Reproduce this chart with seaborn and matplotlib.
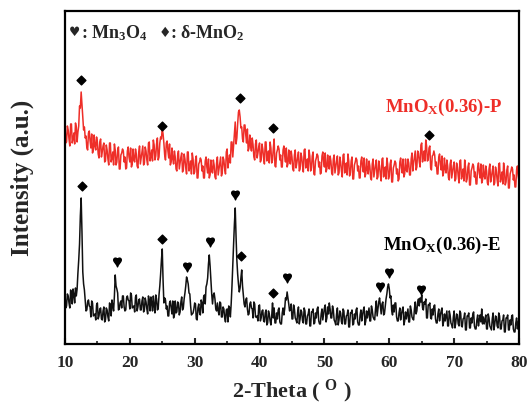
import numpy as np
import pandas as pd
import matplotlib
matplotlib.use("Agg")
import matplotlib.pyplot as plt
import seaborn as sns
from matplotlib.ticker import MultipleLocator

sns.set_theme(style="ticks")
plt.rcParams['font.family'] = ['Liberation Serif', 'DejaVu Sans']
plt.rcParams['font.weight'] = 'bold'
plt.rcParams['mathtext.fontset'] = 'custom'
plt.rcParams['mathtext.rm'] = 'Liberation Serif:bold'
plt.rcParams['mathtext.it'] = 'Liberation Serif:bold'
plt.rcParams['mathtext.bf'] = 'Liberation Serif:bold'
plt.rcParams['mathtext.default'] = 'rm'

# XRD intensities (a.u.), 2-theta 10..80 deg, 0.125 deg steps (one row per degree)
red_P = [
    220, 201, 202, 218, 214, 205, 198, 220,
    220, 201, 205, 211, 200, 221, 217, 202,
    212, 218, 238, 236, 252, 240, 227, 214,
    217, 206, 208, 196, 194, 211, 213, 203,
    196, 210, 191, 194, 209, 198, 194, 207,
    202, 190, 186, 202, 205, 187, 192, 198,
    201, 182, 183, 199, 194, 185, 179, 201,
    201, 182, 186, 192, 179, 200, 194, 179,
    182, 194, 197, 175, 175, 189, 191, 195,
    193, 182, 187, 175, 176, 193, 197, 187,
    182, 196, 177, 180, 195, 184, 182, 195,
    190, 178, 176, 192, 198, 180, 186, 192,
    198, 179, 181, 197, 193, 184, 179, 201,
    202, 183, 188, 194, 183, 204, 199, 184,
    188, 200, 206, 184, 187, 201, 207, 205,
    216, 210, 201, 189, 184, 201, 203, 193,
    186, 200, 179, 182, 196, 185, 180, 193,
    187, 175, 173, 189, 193, 175, 181, 187,
    191, 172, 174, 190, 185, 176, 170, 192,
    192, 173, 177, 183, 170, 191, 185, 170,
    172, 184, 188, 166, 166, 180, 182, 186,
    184, 173, 178, 166, 166, 183, 187, 177,
    171, 185, 166, 169, 184, 173, 171, 184,
    179, 167, 165, 181, 187, 169, 175, 181,
    187, 168, 171, 187, 184, 175, 170, 192,
    195, 176, 183, 189, 181, 202, 202, 187,
    199, 211, 222, 200, 206, 220, 232, 234,
    227, 216, 217, 205, 202, 219, 219, 209,
    201, 215, 193, 196, 209, 198, 193, 206,
    199, 187, 184, 200, 204, 186, 191, 197,
    201, 182, 184, 200, 195, 186, 180, 202,
    202, 183, 187, 193, 181, 202, 196, 181,
    184, 196, 205, 178, 177, 191, 194, 198,
    195, 184, 189, 177, 177, 194, 198, 188,
    182, 196, 177, 180, 194, 183, 180, 193,
    187, 175, 173, 189, 194, 176, 181, 187,
    192, 173, 175, 191, 187, 178, 172, 194,
    195, 176, 179, 185, 173, 194, 188, 173,
    176, 188, 192, 170, 169, 183, 186, 190,
    188, 177, 182, 170, 171, 188, 192, 182,
    177, 191, 172, 175, 189, 178, 175, 188,
    183, 171, 169, 185, 189, 171, 177, 183,
    188, 169, 171, 187, 182, 173, 167, 189,
    190, 171, 175, 181, 169, 190, 183, 168,
    171, 183, 187, 165, 165, 179, 182, 186,
    184, 173, 178, 166, 166, 183, 187, 177,
    172, 186, 167, 170, 185, 174, 170, 183,
    178, 166, 164, 180, 185, 167, 173, 179,
    184, 165, 167, 183, 178, 169, 163, 185,
    186, 167, 171, 177, 165, 186, 180, 165,
    168, 180, 184, 162, 162, 176, 179, 183,
    181, 170, 175, 163, 165, 182, 186, 176,
    171, 185, 167, 170, 185, 174, 172, 185,
    181, 169, 169, 185, 191, 173, 181, 187,
    193, 174, 177, 193, 191, 182, 177, 199,
    201, 182, 187, 193, 183, 204, 198, 183,
    184, 196, 198, 176, 174, 188, 189, 193,
    189, 178, 182, 170, 170, 187, 190, 180,
    174, 188, 168, 171, 186, 175, 171, 184,
    178, 166, 164, 180, 184, 166, 172, 178,
    182, 163, 165, 181, 177, 168, 161, 183,
    184, 165, 169, 175, 163, 184, 177, 162,
    165, 177, 181, 159, 159, 173, 176, 180,
    178, 167, 172, 160, 160, 177, 181, 171,
    166, 180, 161, 164, 179, 168, 165, 178,
    173, 161, 159, 175, 180, 162, 167, 173,
    178, 159, 161, 177, 173, 164, 158, 180,
    181, 162, 166, 172, 160, 181, 174, 159,
    162, 174, 178, 156, 156, 170, 173, 177,
    175, 164, 169, 157, 157, 174, 178, 168,
    163,
]
black_E = [
    51, 36, 38, 50, 48, 41, 36, 54,
    51, 40, 55, 49, 41, 56, 48, 55,
    71, 84, 100, 128, 146, 112, 72, 60,
    54, 43, 33, 34, 42, 44, 38, 37,
    27, 43, 41, 28, 29, 30, 24, 39,
    41, 25, 28, 35, 36, 25, 24, 33,
    37, 22, 24, 36, 34, 27, 23, 41,
    39, 28, 44, 38, 33, 48, 69, 58,
    55, 51, 34, 35, 41, 43, 36, 48,
    48, 37, 33, 34, 46, 48, 44, 43,
    35, 51, 49, 36, 37, 38, 32, 47,
    49, 33, 37, 44, 45, 34, 34, 43,
    47, 32, 34, 46, 42, 35, 30, 48,
    44, 33, 47, 41, 33, 48, 38, 31,
    49, 45, 34, 35, 49, 58, 70, 84,
    95, 64, 41, 46, 44, 35, 38, 28,
    28, 41, 43, 36, 30, 43, 26, 29,
    43, 31, 32, 42, 41, 29, 32, 42,
    47, 34, 36, 45, 51, 58, 67, 64,
    60, 51, 50, 38, 29, 30, 31, 35,
    41, 40, 25, 24, 36, 40, 31, 29,
    44, 41, 31, 47, 49, 40, 57, 60,
    66, 80, 89, 78, 64, 50, 40, 49,
    51, 45, 35, 33, 41, 33, 29, 42,
    41, 27, 27, 37, 35, 26, 22, 34,
    35, 22, 38, 36, 27, 40, 58, 80,
    100, 120, 136, 108, 84, 70, 60, 52,
    56, 66, 74, 58, 49, 40, 37, 44,
    46, 35, 29, 30, 40, 42, 36, 35,
    26, 42, 40, 27, 27, 28, 23, 38,
    39, 23, 26, 33, 34, 23, 22, 31,
    34, 19, 21, 33, 30, 23, 19, 28,
    41, 26, 36, 21, 21, 31, 25, 34,
    36, 22, 20, 20, 31, 36, 29, 35,
    46, 44, 52, 46, 40, 33, 35, 40,
    25, 25, 39, 35, 26, 24, 21, 32,
    37, 20, 25, 34, 32, 23, 21, 36,
    33, 20, 20, 28, 30, 35, 18, 18,
    32, 32, 35, 20, 21, 31, 26, 35,
    37, 23, 20, 20, 30, 35, 24, 30,
    36, 39, 22, 26, 37, 30, 41, 35,
    26, 26, 38, 34, 24, 22, 19, 30,
    36, 19, 24, 33, 31, 22, 20, 35,
    33, 20, 20, 28, 29, 34, 17, 17,
    31, 31, 34, 19, 20, 30, 25, 34,
    36, 22, 19, 19, 29, 34, 23, 29,
    34, 37, 19, 23, 33, 26, 31, 36,
    23, 23, 38, 34, 27, 25, 24, 35,
    43, 28, 35, 42, 46, 38, 30, 40,
    42, 29, 30, 38, 45, 50, 57, 60,
    55, 46, 48, 33, 29, 39, 32, 41,
    41, 27, 23, 23, 31, 36, 24, 30,
    34, 37, 19, 23, 32, 25, 30, 35,
    22, 22, 38, 34, 27, 25, 24, 35,
    42, 30, 33, 42, 45, 38, 46, 42,
    49, 36, 34, 42, 40, 45, 26, 26,
    39, 39, 41, 26, 25, 35, 29, 38,
    39, 25, 21, 21, 30, 35, 23, 29,
    33, 36, 18, 22, 30, 23, 28, 33,
    18, 18, 33, 29, 21, 19, 16, 27,
    33, 16, 21, 30, 29, 20, 18, 33,
    31, 18, 17, 25, 26, 31, 14, 14,
    28, 28, 31, 16, 16, 26, 21, 30,
    32, 18, 15, 15, 24, 29, 18, 24,
    29, 22, 35, 20, 27, 20, 24, 29,
    15, 15, 30, 26, 18, 16, 14, 25,
    31, 14, 19, 28, 27, 18, 16, 31,
    28, 15, 15, 23, 24, 29, 12, 12,
    26, 26, 29, 14, 14, 24, 19, 28,
    29, 15, 12, 12, 21, 26, 15, 21,
    26,
]
two_theta = np.linspace(10, 80, len(red_P))

# phase markers (2-theta, height)
diam_x = [12.5, 25.0, 37.0, 42.1, 66.1, 12.6, 24.95, 37.2, 42.15]
diam_y = [264, 218, 246, 216, 209, 158, 105, 88, 51]
heart_x = [18.0, 28.85, 32.35, 36.2, 44.3, 58.5, 59.9, 64.85]
heart_y = [82, 77, 102, 149, 66, 57, 71, 54]

df = pd.DataFrame({'2theta': np.concatenate([two_theta, two_theta]),
                   'I': red_P + black_E,
                   'sample': ['P'] * len(red_P) + ['E'] * len(black_E)})

fig = plt.figure(figsize=(5.28, 4.08), dpi=100)
ax = fig.add_axes([0.123, 0.157, 0.860, 0.816])

sns.lineplot(data=df, x='2theta', y='I', hue='sample',
             palette={'P': '#ee2e28', 'E': '#111111'}, estimator=None,
             sort=False, linewidth=1.1, legend=False, ax=ax)

ax.scatter(diam_x, diam_y, marker='D', s=20, color='black', zorder=5)
ax.scatter(heart_x, heart_y, marker='$\u2665$', s=40, color='black', zorder=5)

ax.text(59.3, 237, 'MnO$_\\mathrm{X}$(0.36)-P', color='#ee2e28', fontsize=13.5,
        fontweight='bold', va='center')
ax.text(59.0, 99, 'MnO$_\\mathrm{X}$(0.36)-E', color='black', fontsize=13.5,
        fontweight='bold', va='center')

# legend for phases
ax.text(0.022, 0.935, '\u2665', transform=ax.transAxes, fontsize=9,
        family='DejaVu Sans', va='center', ha='center')
ax.text(0.035, 0.935, ': Mn$_3$O$_4$', transform=ax.transAxes, fontsize=13,
        fontweight='bold', va='center')
ax.text(0.22, 0.935, '\u2666', transform=ax.transAxes, fontsize=10,
        family='DejaVu Sans', va='center', ha='center')
ax.text(0.232, 0.935, ': \u03b4-MnO$_2$', transform=ax.transAxes, fontsize=13,
        fontweight='bold', va='center', family=['Liberation Serif', 'DejaVu Sans'])

ax.set_xlim(10, 80)
ax.set_ylim(0, 333)
ax.set_yticks([])
ax.xaxis.set_major_locator(MultipleLocator(10))
ax.xaxis.set_minor_locator(MultipleLocator(5))
ax.tick_params(axis='x', which='major', direction='in', length=4, width=1.5,
               labelsize=12.5, pad=8)
ax.tick_params(axis='x', which='minor', direction='in', length=2.5, width=1.2)
for sp in ax.spines.values():
    sp.set_visible(True)
    sp.set_linewidth(1.6)
    sp.set_color('black')

ax.set_xlabel('2-Theta ( $^{O}$ )', fontsize=16, fontweight='bold', labelpad=5)
ax.set_ylabel('Intensity (a.u.)', fontsize=18, fontweight='bold', labelpad=22)

fig.savefig('out.png', dpi=100)
